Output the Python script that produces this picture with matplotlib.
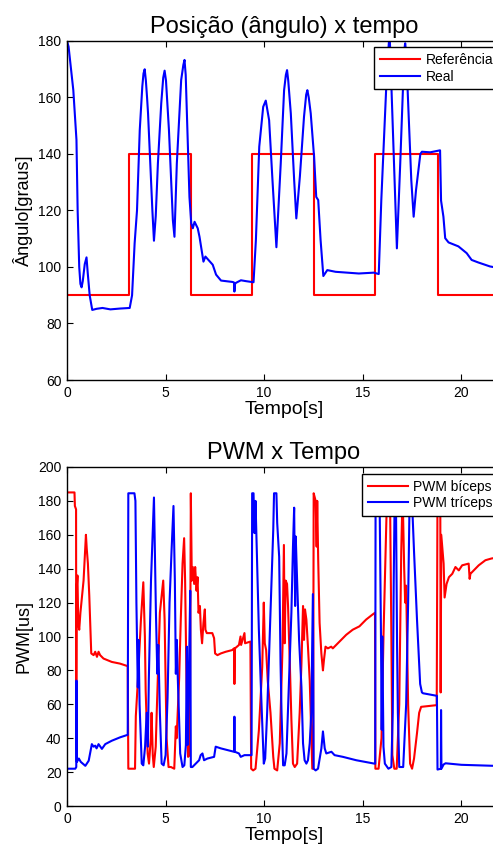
import matplotlib
matplotlib.use("Agg")
import matplotlib.pyplot as plt

plt.rcParams["font.family"] = ["Liberation Sans", "DejaVu Sans"]

# Posição: referência (degraus) e resposta real
t_ref = [0, 3.13, 6.30, 9.38, 12.53, 15.64, 18.79, 22.0]
referencia = [90, 140, 90, 140, 90, 140, 90, 90]

t_real = [0, 0.08, 0.32, 0.48, 0.54, 0.56, 0.62, 0.68, 0.74, 0.80, 0.90, 0.99, 1.05, 1.15, 1.28,
          1.5, 1.8, 2.2, 2.7, 3.18, 3.3, 3.43, 3.55, 3.69, 3.82, 3.88, 3.94, 4.0, 4.06, 4.11,
          4.33, 4.41, 4.5, 4.61, 4.78, 4.88, 4.95, 5.02, 5.17, 5.37, 5.45, 5.57, 5.79, 5.9,
          5.96, 6.02, 6.08, 6.21, 6.30, 6.38, 6.47, 6.63, 6.72, 6.92, 7.02, 7.39, 7.56, 7.81,
          8.40, 8.47, 8.49, 8.52, 8.57, 8.82, 9.07, 9.46, 9.58, 9.75, 9.95, 10.08, 10.25, 10.42,
          10.62, 10.84, 11.01, 11.1, 11.16, 11.22, 11.35, 11.52, 11.63, 11.81, 12.02, 12.13,
          12.19, 12.26, 12.36, 12.53, 12.64, 12.74, 12.83, 12.86, 13.0, 13.2, 13.62, 14.8, 15.56,
          15.81, 15.94, 16.06, 16.23, 16.36, 16.47, 16.64, 16.73, 16.90, 17.07, 17.11, 17.15,
          17.2, 17.29, 17.46, 17.58, 17.70, 17.92, 18.0, 18.42, 18.92, 18.97, 19.09, 19.18,
          19.35, 19.85, 20.27, 20.52, 20.86, 21.45, 22.0]
real = [180, 178, 162.6, 145, 120, 115, 100, 94, 92.8, 95, 101, 103.4, 98, 90, 84.8,
        85.2, 85.5, 85.0, 85.3, 85.5, 90, 108.4, 120, 148.5, 164, 168.5, 170, 166, 160, 154.4,
        120, 109.3, 118, 136.7, 158, 167, 169.5, 166, 148.5, 116.5, 110.7, 136.7, 166.2, 171.5,
        173.3, 168, 154.4, 124.8, 115.5, 113.7, 116, 113.7, 110.7, 101.9, 103.7, 100.8, 97.3, 95.2,
        94.7, 94.5, 91.3, 94.0, 94.4, 95.3, 95, 94.6, 109.6, 142.6, 156.7, 158.9, 152, 130.8,
        107, 136.7, 162.6, 168, 169.7, 166, 154.4, 130.8, 117.2, 132, 153.2, 161,
        162.6, 160, 154.4, 139.1, 124.8, 123.7, 113, 109.6, 96.8, 98.9, 98.3, 97.7, 98,
        97.5, 123.7, 142.6, 170, 183, 160, 124.8, 106.6, 136.7, 170, 177, 179.2,
        176, 160, 130.8, 117.8, 127.2, 140, 140.8, 140.6, 141.3, 123.5, 117.8, 110.2,
        108.7, 107.3, 104.9, 102.5, 101.6, 100.2, 99.5]

# PWM dos dois músculos
t_bic = [0, 0.38, 0.40, 0.46, 0.47, 0.49, 0.53, 0.57, 0.62, 0.68, 0.84, 0.96, 1.0, 1.06, 1.13,
         1.23, 1.35, 1.43, 1.52, 1.6, 1.68, 1.85, 2.27, 2.69, 3.08, 3.11, 3.45, 3.49, 3.6, 3.75,
         3.87, 3.95, 3.99, 4.09, 4.16, 4.25, 4.29, 4.35, 4.40, 4.5, 4.55, 4.71, 4.88, 4.95, 5.05,
         5.15, 5.27, 5.44, 5.52, 5.56, 5.69, 5.77, 5.86, 5.94, 5.99, 6.06, 6.14, 6.22, 6.25, 6.28,
         6.33, 6.38, 6.45, 6.50, 6.57, 6.62, 6.67, 6.74, 6.79, 6.85, 6.92, 6.99, 7.02, 7.09, 7.37,
         7.46, 7.51, 7.63, 7.80, 8.05, 8.38, 8.47, 8.49, 8.52, 8.72, 8.80, 8.83, 9.0, 9.03, 9.30,
         9.34, 9.44, 9.56, 9.73, 9.90, 9.98, 10.03, 10.10, 10.18, 10.32, 10.46, 10.52, 10.66,
         10.79, 10.93, 11.0, 11.04, 11.09, 11.16, 11.21, 11.30, 11.38, 11.46, 11.55, 11.67,
         11.80, 11.89, 11.97, 12.02, 12.07, 12.14, 12.22, 12.31, 12.39, 12.44, 12.48, 12.51,
         12.61, 12.66, 12.69, 12.74, 12.81, 12.90, 12.98, 13.03, 13.11, 13.23, 13.40, 13.48,
         13.82, 14.16, 14.49, 14.83, 15.17, 15.50, 15.62, 15.64, 15.8, 15.95, 16.05, 16.2, 16.28,
         16.38, 16.45, 16.5, 16.6, 16.72, 16.85, 16.95, 17.02, 17.1, 17.15, 17.2, 17.3, 17.4,
         17.5, 17.6, 17.75, 17.86, 17.96, 18.75, 18.79, 18.93, 18.95, 18.98, 19.1, 19.15, 19.25,
         19.37, 19.54, 19.70, 19.87, 20.04, 20.37, 20.42, 20.46, 20.63, 20.88, 21.22, 21.52, 22.0]
pwm_biceps = [185, 185, 177, 175, 50, 128, 136, 108, 104, 114, 133, 160, 152, 143, 124,
              90, 89, 91, 88, 91, 89, 87, 85, 84, 82.5, 22, 22, 53, 75, 110,
              132, 100, 68, 31, 25, 40, 55, 30, 23, 35, 55, 114, 133, 110, 40,
              23, 23, 22, 47, 40, 76, 110, 143, 158, 133, 74, 29, 30, 94, 184.5,
              133, 141, 131, 141, 127, 135, 114, 118, 104, 96, 108, 116, 104, 102, 102,
              99, 90, 89, 90, 91, 92, 93, 72, 93, 95, 100, 95, 102, 96, 97,
              22, 21, 22, 44.5, 82, 120, 96, 92, 74, 55, 29, 22, 21,
              37, 94, 154, 96, 133, 131, 118, 84, 51, 25, 23, 25,
              55, 84, 118, 98, 116, 110, 94, 74, 43, 22, 22, 184.5,
              180, 153, 180, 145, 108, 90, 80, 86, 94, 93, 94, 93,
              97, 101, 104, 106, 110, 113, 114, 22, 22, 40, 100, 170, 185,
              185, 100, 30, 22, 22, 60, 150, 185, 140, 120, 130, 60, 25,
              22, 28, 43, 55, 58.5, 59.5, 185, 185, 67, 160, 143, 123, 131,
              135, 137, 141, 139, 142, 143, 134, 137, 139, 142, 145, 146, 147]

t_tri = [0, 0.42, 0.47, 0.48, 0.50, 0.6, 0.7, 0.93, 1.1, 1.26, 1.35, 1.43, 1.5, 1.6, 1.77,
         1.94, 2.27, 2.69, 3.08, 3.11, 3.42, 3.47, 3.52, 3.55, 3.59, 3.63, 3.68, 3.79, 3.87,
         3.96, 4.04, 4.10, 4.15, 4.26, 4.41, 4.51, 4.58, 4.63, 4.71, 4.80, 4.90, 5.0, 5.1, 5.2,
         5.30, 5.40, 5.47, 5.52, 5.57, 5.62, 5.69, 5.74, 5.86, 5.95, 6.03, 6.08, 6.11, 6.17,
         6.25, 6.28, 6.36, 6.53, 6.70, 6.78, 6.87, 6.95, 7.12, 7.46, 7.54, 7.80, 8.13, 8.47,
         8.49, 8.51, 8.72, 8.81, 9.0, 9.31, 9.36, 9.39, 9.46, 9.51, 9.56, 9.61, 9.73, 9.85,
         9.98, 10.05, 10.15, 10.32, 10.46, 10.50, 10.62, 10.66, 10.76, 10.83, 10.88, 10.96,
         11.04, 11.13, 11.26, 11.38, 11.46, 11.52, 11.57, 11.60, 11.67, 11.77, 11.89, 11.97,
         12.05, 12.14, 12.22, 12.31, 12.39, 12.47, 12.51, 12.61, 12.73, 12.90, 12.98, 13.07,
         13.15, 13.41, 13.57, 13.99, 14.67, 15.59, 15.63, 15.65, 15.85, 15.92, 15.96, 15.99,
         16.05, 16.12, 16.3, 16.45, 16.52, 16.57, 16.62, 16.68, 16.74, 16.78, 16.85, 17.05,
         17.2, 17.3, 17.38, 17.48, 17.6, 17.75, 17.91, 18.0, 18.06, 18.76, 18.79, 18.96, 18.97,
         18.99, 19.1, 19.2, 20.0, 21.5, 22.0]
pwm_triceps = [22, 22, 23, 74, 26, 28, 26, 23.7, 26.7, 36.5, 35, 35.6, 34, 36.5, 33.7,
               36.5, 38.5, 40.5, 42, 184.5, 184.5, 180, 120, 98, 70, 98, 60, 25, 24,
               35, 55, 35, 75, 133, 182, 114, 78, 95, 55, 25, 24, 30, 64, 120,
               150, 177, 133, 78, 98, 75, 49, 31, 23, 24, 36, 94, 36, 70,
               127, 23, 23, 25, 27, 30, 31, 27, 28, 29, 35, 34, 33, 32,
               52.7, 32, 31, 29, 30, 30, 30, 184.5, 184.5, 161, 180, 157, 104, 64.5,
               25, 28, 55, 114, 163, 184.5, 184.5, 167, 147, 84, 55, 24,
               24, 31, 74, 114, 153, 176, 118, 159, 133, 98, 70, 37,
               27, 25, 27, 37, 55, 125, 22, 21, 22, 34, 44, 34,
               31, 32, 30, 29, 27, 25, 25, 184.5, 184.5, 104, 45, 100,
               35, 25, 22, 23, 55, 133, 185, 185, 94, 55, 23, 23,
               60, 120, 185, 185, 150, 110, 72, 67, 66.5, 65, 21.5, 22, 56.6,
               22, 24.5, 25.2, 24.3, 23.7, 23.7]

W, H = 493, 849
fig = plt.figure(figsize=(W / 100, H / 100), dpi=100)

left = 67 / W
width = 433.8 / W
ax1 = fig.add_axes([left, (H - 380) / H, width, 339 / H])
ax2 = fig.add_axes([left, (H - 806) / H, width, 339 / H])

ax1.step(t_ref, referencia, where="post", color="#ff0000", lw=1.5, label="Referência")
ax1.plot(t_real, real, color="#0000ff", lw=1.5, label="Real")
ax1.set_ylim(60, 180)
ax1.set_yticks(range(60, 181, 20))
ax1.set_title("Posição (ângulo) x tempo", fontsize=17, pad=6)
ax1.set_ylabel("Ângulo[graus]", fontsize=13)

ax2.plot(t_bic, pwm_biceps, color="#ff0000", lw=1.5, label="PWM bíceps")
ax2.plot(t_tri, pwm_triceps, color="#0000ff", lw=1.5, label="PWM tríceps")
ax2.set_ylim(0, 200)
ax2.set_yticks(range(0, 201, 20))
ax2.set_title("PWM x Tempo", fontsize=17, pad=6)
ax2.set_ylabel("PWM[us]", fontsize=13)

for ax in (ax1, ax2):
    ax.set_xlim(0, 22)
    ax.set_xticks([0, 5, 10, 15, 20])
    ax.set_xlabel("Tempo[s]", fontsize=14, labelpad=1)
    ax.tick_params(direction="in", top=True, right=True, length=4, width=0.8,
                   labelsize=10, pad=4)
    for s in ax.spines.values():
        s.set_linewidth(1.0)

leg_kw = dict(loc="upper left", borderaxespad=0, fancybox=False, framealpha=1,
              edgecolor="black", fontsize=10, handlelength=2.9, handletextpad=0.4,
              labelspacing=0.2, borderpad=0.4)
l1 = ax1.legend(bbox_to_anchor=((374 - 67) / 433.8, (380 - 47.5) / 339), **leg_kw)
l2 = ax2.legend(bbox_to_anchor=((362 - 67) / 433.8, (806 - 474) / 339), **leg_kw)
for lg in (l1, l2):
    lg.get_frame().set_linewidth(1.0)

fig.savefig("out.png", dpi=100)
